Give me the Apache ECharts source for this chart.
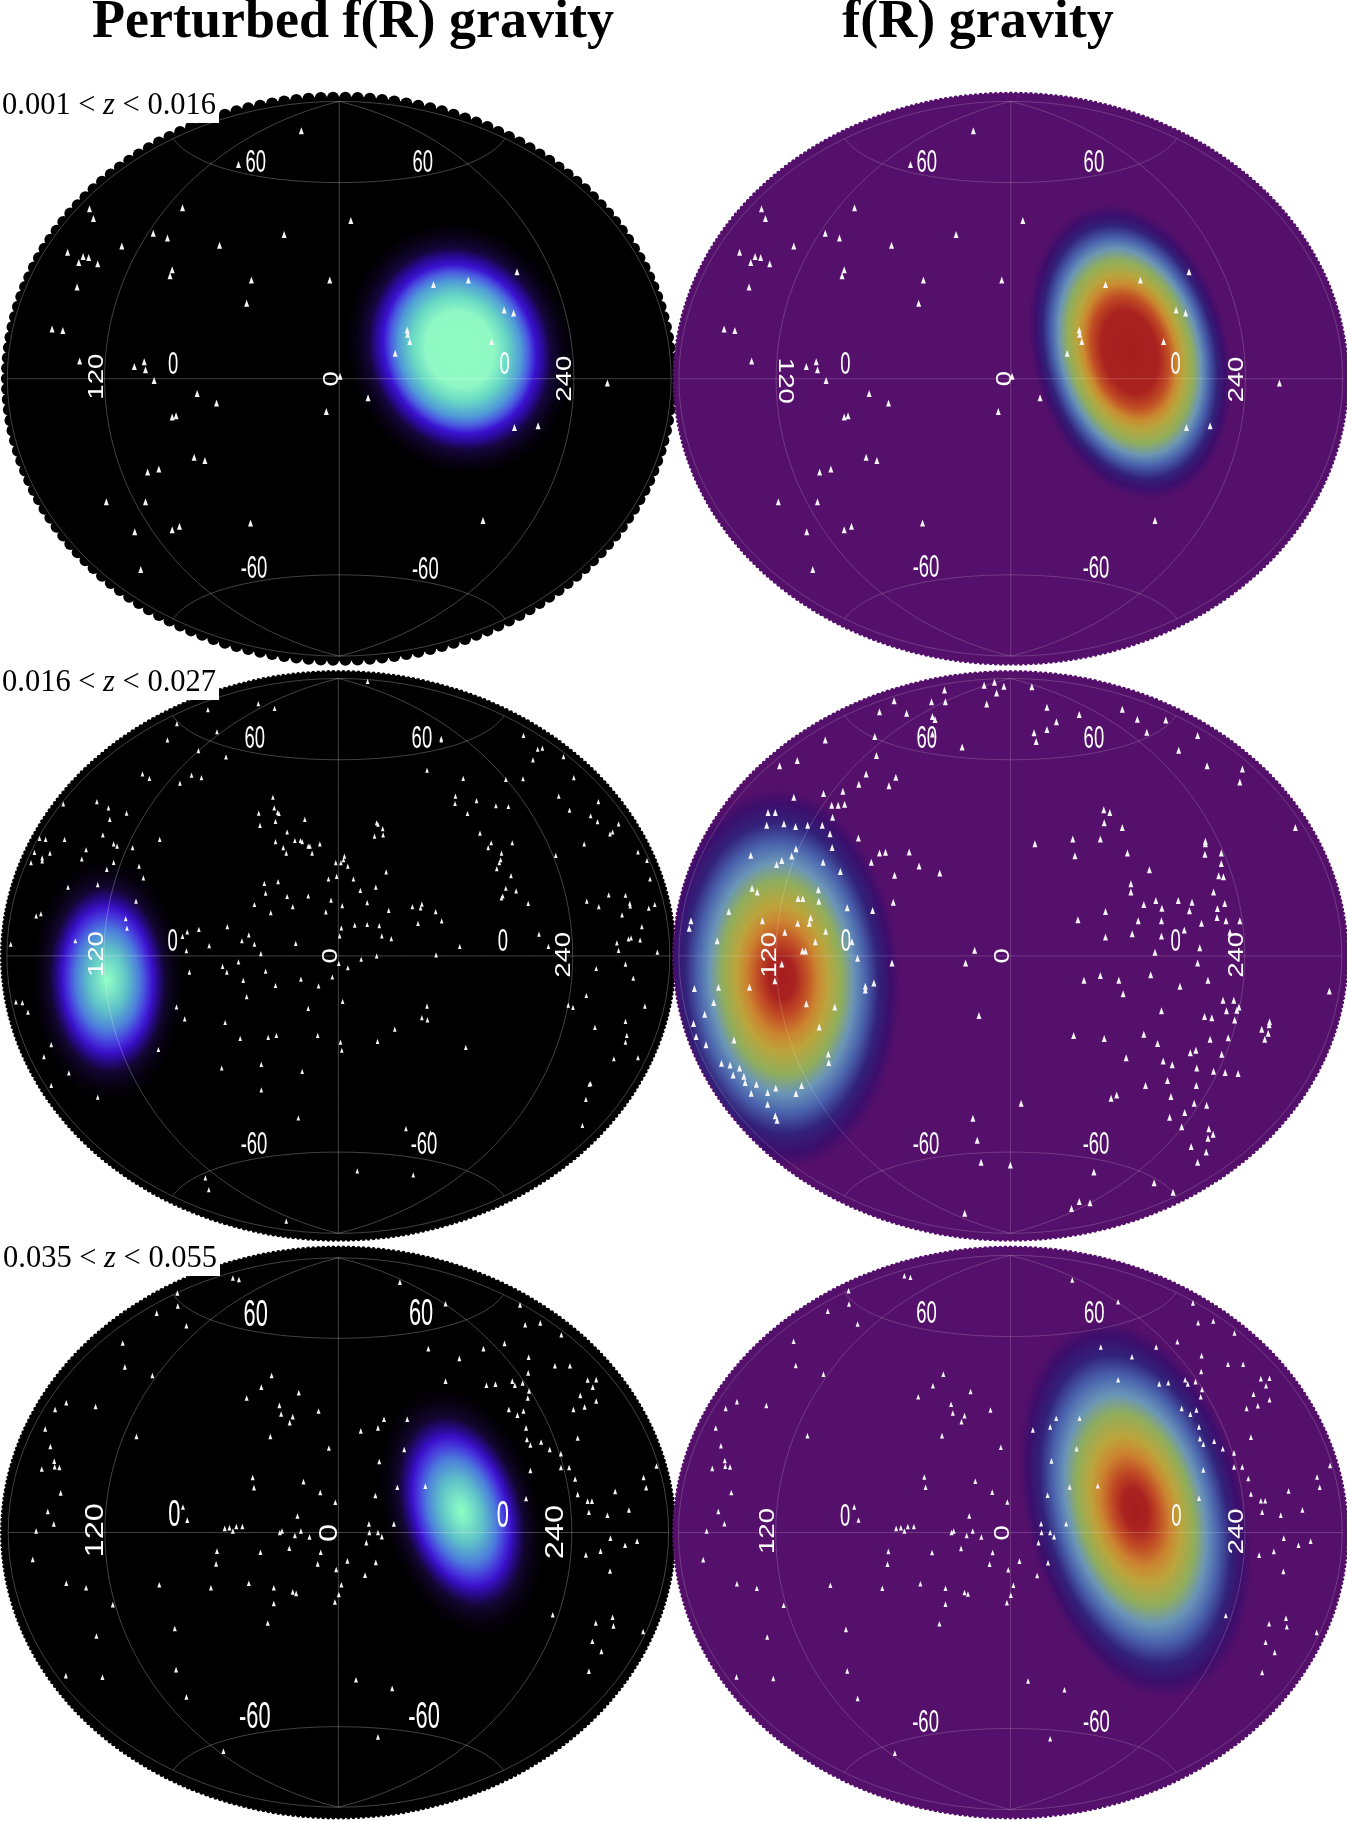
<!DOCTYPE html>
<html>
<head>
<meta charset="utf-8">
<style>html,body{margin:0;padding:0;background:#fff}#c{width:1347px;height:1821px}</style>
<script src="https://cdn.jsdelivr.net/npm/echarts@6/dist/echarts.min.js"></script>
</head>
<body>
<div id="c"></div>
<script>
// Source positions, in map plot units (0..1568 across each panel).
var sourcesRow1 = [[700,308],[554,388],[208,492],[424,490],[217,515],[815,520],[356,550],[389,561],[660,553],[510,578],[283,580],[157,595],[193,605],[206,607],[183,619],[227,622],[400,636],[395,650],[584,660],[766,660],[179,677],[573,715],[121,776],[146,779],[1007,671],[1088,660],[1201,641],[1171,731],[1193,738],[946,778],[947,788],[952,805],[1142,805],[918,833],[185,851],[312,864],[335,853],[338,872],[358,897],[458,928],[503,950],[855,938],[758,970],[1411,903],[400,983],[409,980],[1195,1008],[1250,1004],[451,1078],[476,1086],[343,1113],[369,1106],[247,1183],[338,1183],[1122,1227],[582,1233],[417,1241],[400,1249],[313,1254],[327,1343],[790,887]];
var sourcesRow2Left = [[854,58],[600,118],[638,131],[483,134],[411,172],[504,194],[389,216],[1025,212],[1025,216],[1216,204],[461,245],[525,262],[1249,241],[1260,238],[1238,270],[1309,261],[992,298],[331,308],[347,320],[445,311],[468,318],[418,333],[1076,320],[1175,323],[1215,321],[1333,318],[634,371],[225,383],[147,389],[1058,368],[1057,388],[1107,380],[1298,368],[1390,383],[637,400],[252,400],[645,412],[648,415],[601,414],[294,414],[1152,394],[1181,396],[1086,415],[1323,406],[1372,421],[604,447],[640,436],[708,431],[255,431],[1388,437],[875,440],[878,444],[889,456],[890,473],[870,476],[667,465],[239,473],[1115,468],[1437,443],[1423,465],[1417,470],[92,482],[106,485],[150,485],[371,485],[640,491],[685,488],[698,488],[702,491],[743,497],[1141,494],[1190,494],[1357,497],[264,497],[272,503],[716,503],[720,503],[308,507],[658,507],[1134,507],[200,513],[80,520],[116,522],[665,522],[725,522],[1165,522],[1482,519],[1291,528],[98,535],[98,543],[190,538],[72,548],[800,530],[798,540],[780,548],[792,548],[264,547],[1503,542],[1163,540],[1160,548],[808,557],[323,557],[1154,564],[248,566],[897,573],[782,585],[763,592],[821,592],[1187,583],[333,589],[1510,592],[646,599],[614,604],[158,614],[227,607],[873,614],[837,623],[1175,617],[1199,624],[617,630],[667,639],[716,638],[1414,635],[1453,636],[1168,638],[1165,643],[769,649],[316,652],[1363,652],[853,656],[1463,658],[1464,665],[1521,661],[1227,658],[591,661],[795,664],[958,667],[980,660],[977,670],[1391,667],[680,667],[1507,671],[903,677],[629,683],[757,681],[1012,680],[95,686],[84,692],[1445,689],[292,699],[1026,705],[971,712],[295,725],[528,721],[462,728],[824,717],[853,715],[881,718],[793,724],[1491,721],[435,735],[424,747],[578,743],[887,746],[789,746],[909,753],[1252,741],[1466,751],[1460,754],[1487,757],[562,759],[175,759],[591,768],[687,766],[1433,765],[25,768],[486,772],[1068,774],[1274,774],[433,786],[1437,785],[606,794],[1527,790],[1013,797],[875,800],[839,809],[554,816],[787,820],[1453,822],[517,828],[808,832],[527,844],[1385,834],[617,841],[440,844],[772,857],[1471,860],[565,866],[699,863],[640,880],[740,881],[1362,907],[573,910],[796,923],[37,924],[52,926],[1320,933],[1331,939],[1498,936],[410,938],[992,936],[65,952],[716,942],[429,970],[980,967],[993,973],[523,980],[1453,977],[1382,993],[917,998],[558,1023],[623,1020],[642,1015],[738,1015],[1456,1015],[1453,1033],[877,1031],[791,1033],[119,1040],[1082,1047],[368,1053],[794,1055],[102,1072],[1426,1078],[1482,1075],[515,1103],[607,1093],[702,1112],[160,1116],[119,1150],[1372,1145],[1369,1147],[607,1162],[227,1182],[1361,1188],[693,1238],[1353,1258],[943,1267],[1000,1278],[830,1381],[960,1392],[477,1400],[485,1432],[665,1517]];
var sourcesRow2Right = [[749,60],[725,68],[771,71],[836,72],[633,81],[754,89],[516,110],[603,113],[635,113],[731,119],[871,128],[482,140],[545,144],[605,153],[611,161],[946,147],[1046,133],[1081,160],[1147,162],[893,167],[871,188],[841,197],[1103,195],[471,207],[605,200],[846,220],[1221,204],[356,216],[674,235],[1177,244],[475,258],[291,272],[250,286],[1243,286],[1325,295],[1319,330],[451,308],[520,317],[434,336],[504,340],[397,355],[352,361],[283,371],[371,393],[386,393],[401,390],[223,412],[240,412],[1003,405],[1017,412],[373,425],[220,447],[260,443],[287,450],[315,447],[349,447],[1004,440],[1046,453],[1448,453],[367,470],[433,481],[931,484],[995,484],[1239,490],[1239,497],[843,497],[372,507],[288,510],[482,522],[496,520],[551,519],[278,530],[183,528],[936,529],[1058,522],[1238,525],[1276,522],[255,542],[243,553],[351,547],[463,547],[574,557],[1276,550],[391,572],[622,576],[1109,567],[517,582],[1270,583],[1281,586],[186,617],[198,627],[340,621],[1066,605],[1066,627],[1258,627],[293,645],[304,645],[341,652],[1124,650],[1176,650],[1208,655],[1096,661],[514,655],[1284,658],[1267,672],[407,670],[132,680],[466,677],[1138,671],[1007,680],[1202,678],[322,697],[1266,696],[943,702],[1083,705],[1137,705],[210,705],[44,705],[292,712],[319,712],[1287,705],[1319,705],[1230,712],[40,725],[262,736],[357,733],[1296,736],[1069,740],[1190,730],[1137,746],[1007,749],[105,759],[333,762],[418,762],[1226,778],[303,787],[310,787],[1122,790],[431,806],[511,819],[703,785],[682,819],[255,822],[1221,819],[1112,851],[995,853],[239,867],[957,866],[1038,866],[1245,866],[469,873],[180,885],[108,885],[52,888],[449,882],[449,892],[1180,882],[1048,902],[1527,895],[97,926],[312,929],[1280,920],[1305,920],[378,938],[1317,938],[1312,947],[1137,948],[1288,948],[713,961],[76,958],[1237,964],[1254,967],[1307,973],[50,983],[342,992],[1388,978],[1387,986],[1370,998],[933,1015],[1004,1023],[1096,1012],[1385,1009],[1377,1025],[56,1018],[1250,1025],[1292,1021],[144,1027],[79,1040],[1128,1037],[1217,1055],[1204,1062],[1277,1066],[363,1065],[364,1088],[1055,1075],[1141,1084],[1162,1094],[115,1090],[135,1095],[157,1103],[1219,1103],[1258,1112],[1285,1115],[1315,1118],[142,1122],[167,1125],[170,1142],[196,1147],[1151,1137],[301,1150],[241,1157],[1100,1150],[1218,1150],[184,1171],[222,1169],[288,1172],[1159,1180],[1033,1176],[1020,1185],[222,1201],[811,1198],[1213,1198],[1242,1204],[1191,1223],[240,1232],[244,1244],[1156,1236],[699,1239],[1184,1262],[1247,1267],[1257,1282],[1245,1293],[709,1298],[1206,1315],[1241,1330],[786,1365],[718,1358],[1221,1358],[980,1384],[1120,1413],[1164,1439],[946,1464],[971,1467],[928,1483],[680,1496]];
var sourcesRow3 = [[541,115],[555,119],[929,126],[412,155],[413,190],[1035,184],[1208,187],[364,209],[433,243],[1220,240],[1255,235],[1304,267],[285,289],[1172,290],[995,304],[1123,304],[1067,330],[1228,327],[290,353],[1289,350],[1324,350],[354,376],[631,376],[1227,369],[1365,388],[1385,387],[1035,391],[1190,391],[1130,402],[1151,399],[1196,402],[1214,396],[1377,407],[607,407],[694,422],[1229,417],[1348,429],[1226,436],[573,436],[1385,444],[154,449],[222,459],[128,467],[649,456],[1358,460],[1332,467],[1182,467],[1216,471],[740,471],[1202,482],[653,479],[680,486],[892,493],[946,493],[673,502],[105,519],[878,516],[1222,516],[838,524],[628,539],[317,539],[1342,543],[1224,547],[1232,562],[1257,554],[117,566],[764,570],[1277,574],[939,574],[1303,585],[881,606],[126,605],[127,620],[138,622],[97,626],[1303,622],[1322,622],[1232,630],[1525,618],[587,649],[1336,653],[1495,649],[705,660],[1501,676],[590,676],[923,675],[988,672],[141,690],[744,689],[872,697],[1429,686],[1342,694],[1222,705],[1365,712],[1375,712],[779,715],[425,728],[111,740],[691,752],[1461,736],[1368,742],[1411,750],[435,763],[125,773],[857,773],[915,773],[84,792],[522,785],[533,783],[549,780],[563,780],[541,792],[655,792],[650,796],[699,792],[858,796],[878,796],[685,804],[719,808],[887,807],[1418,811],[851,823],[1480,819],[1452,830],[672,838],[504,846],[605,849],[745,849],[1395,846],[1361,856],[76,868],[502,880],[738,880],[807,872],[873,876],[781,895],[1417,899],[848,910],[154,932],[370,936],[200,944],[490,944],[578,932],[636,944],[793,936],[680,955],[688,959],[787,962],[262,989],[778,982],[636,986],[1284,1016],[1423,1023],[622,1038],[1384,1038],[1425,1046],[406,1053],[1494,1061],[224,1073],[1376,1087],[1397,1114],[409,1163],[1368,1167],[153,1179],[238,1183],[827,1190],[911,1213],[433,1236],[878,1343],[519,1381]];

// Tick labels: text, x, y, orientation
var ticksA = [['60',594,385,'h'],['60',982,385,'h'],['0',402,863,'h'],['0',1172,863,'h'],['120',225,888,'ccw'],['240',1313,893,'ccw'],['0',770,893,'ccw'],['-60',590,1342,'h'],['-60',988,1345,'h']];
var ticksB = [['60',592,385,'h'],['60',980,385,'h'],['0',403,863,'h'],['0',1170,863,'h'],['120',262,898,'cw'],['240',1313,895,'ccw'],['0',767,893,'cw'],['-60',590,1340,'h'],['-60',985,1342,'h']];
var ticksC = [['60',592,215,'h'],['60',980,215,'h'],['0',401,763,'h'],['0',1168,763,'h'],['120',225,795,'ccw'],['240',1310,797,'ccw'],['0',768,800,'ccw'],['-60',590,1312,'h'],['-60',985,1313,'h']];
var ticksD = [['60',592,215,'h'],['60',980,215,'h'],['0',404,763,'h'],['0',1170,763,'h'],['120',228,797,'ccw'],['240',1312,797,'ccw'],['0',768,800,'ccw'],['-60',590,1313,'h'],['-60',985,1313,'h']];
var ticksE = [['60',594,217,'h'],['60',978,215,'h'],['0',405,753,'h'],['0',1168,755,'h'],['120',222,790,'ccw'],['240',1290,795,'ccw'],['0',765,797,'ccw'],['-60',592,1292,'h'],['-60',985,1293,'h']];
var ticksF = [['60',592,217,'h'],['60',980,217,'h'],['0',404,757,'h'],['0',1170,757,'h'],['120',225,792,'ccw'],['240',1310,793,'ccw'],['0',768,797,'ccw'],['-60',590,1303,'h'],['-60',985,1303,'h']];

var columnTitles = ['Perturbed f(R) gravity', 'f(R) gravity'];
var redshiftBins = ['0.001 < {i|z} < 0.016', '0.016 < {i|z} < 0.027', '0.035 < {i|z} < 0.055'];

// Anisotropy peak on each map: centre x, centre y
var peakA = [1068, 823], peakB = [1064, 830], peakC = [250, 865], peakD = [255, 860], peakE = [1072, 740], peakF = [1075, 735];

// Colour ramps
var BLACK = '#000000', PURPLE = '#54106a';
var rampPlateau = [[0,'#8ffcc4'],[.3,'#8ff8c4'],[.42,'#68d8c4'],[.54,'#4f9ad8'],[.61,'#4a58e0'],[.67,'#3a12d0'],[.73,'#2a0a98'],[.8,'#14063c'],[.9,'#070214'],[1,BLACK]];
var rampPeak = [[0,'#90fcc4'],[.1,'#7eeac6'],[.26,'#5ec0c8'],[.42,'#4c7ddc'],[.53,'#4636dc'],[.6,'#3a10c8'],[.67,'#260a84'],[.76,'#120630'],[.88,'#060210'],[1,BLACK]];
var rampRedWide = [[0,'#a51e1e'],[.28,'#aa2220'],[.38,'#c04c24'],[.46,'#cb8a30'],[.53,'#b6a73e'],[.62,'#90ae5c'],[.7,'#6c96b4'],[.77,'#4a64ae'],[.86,'#32227a'],[.93,'#3c0e6c'],[1,PURPLE]];
var rampRedNarrow = [[0,'#a51e1e'],[.11,'#aa2220'],[.2,'#c04a24'],[.3,'#cc8430'],[.39,'#bca53c'],[.51,'#90ae5c'],[.61,'#6a95b8'],[.71,'#4a63ad'],[.82,'#32227a'],[.92,'#3c0e6c'],[1,PURPLE]];

var GRID_ON_BLACK = 'rgba(255,255,255,.26)', GRID_ON_PURPLE = 'rgba(255,255,255,.18)';
var panels = [
  {grid:[0,0,675,665], xr:[0,1568], yr:[0,1568], c:[788,893], r:[771,654], disk:[786,677], fill:BLACK, scallop:[170,6], src:sourcesRow1, ticks:ticksA, peak:peakA, ramp:rampPlateau, semi:[128,112], tilt:20, tri:[5,7], lineC:GRID_ON_BLACK, tk:1},
  {grid:[672,0,675,665], xr:[0,1568], yr:[0,1568], c:[787,893], r:[771,654], disk:[786,677], fill:PURPLE, scallop:[420,2], src:sourcesRow1, ticks:ticksB, peak:peakB, ramp:rampRedWide, semi:[150,98], tilt:14, tri:[5,7], lineC:GRID_ON_PURPLE, tk:1},
  {grid:[0,660,675,580], xr:[0,1568], yr:[0,1568], c:[786,800], r:[770,750], disk:[786,773], fill:BLACK, scallop:[420,2], src:sourcesRow2Left, ticks:ticksC, peak:peakC, ramp:rampPeak, semi:[122,76], tilt:2, tri:[3.6,5.2], lineC:GRID_ON_BLACK, tk:1},
  {grid:[672,660,675,580], xr:[0,1568], yr:[0,1568], c:[786,800], r:[770,750], disk:[786,773], fill:PURPLE, scallop:[420,2], src:sourcesRow2Right, ticks:ticksD, peak:peakD, ramp:rampRedNarrow, semi:[190,118], tilt:3, tri:[5,7], lineC:GRID_ON_PURPLE, tk:1},
  {grid:[0,1235,675,586], xr:[0,1568], yr:[0,1568], c:[786,796], r:[767,735], disk:[786,768], fill:BLACK, scallop:[420,2], src:sourcesRow3, ticks:ticksE, peak:peakE, ramp:rampPeak, semi:[128,78], tilt:16, tri:[4,5.6], lineC:GRID_ON_BLACK, tk:1.18},
  {grid:[672,1235,675,586], xr:[3.9,1564.1], yr:[7.1,1561.1], c:[786,796], r:[767,735], disk:[782,761], fill:PURPLE, scallop:[420,2], src:sourcesRow3, ticks:ticksF, peak:peakF, ramp:rampRedNarrow, semi:[192,110], tilt:14, tri:[4,5.6], lineC:GRID_ON_PURPLE, tk:1}
];

// Hammer projection of (lon, lat in degrees) to unit-ellipse coordinates
function hammer(lon, lat) {
  var l = lon * Math.PI / 180, p = lat * Math.PI / 180;
  var d = Math.sqrt(1 + Math.cos(p) * Math.cos(l / 2));
  return [Math.cos(p) * Math.sin(l / 2) / d, Math.sin(p) / d];
}
function graticule(P) {
  var out = [], i;
  function pt(h) { out.push([P.c[0] + h[0] * P.r[0], P.c[1] - h[1] * P.r[1]]); }
  function gap() { out.push(['-', '-']); }
  [-180, -120, 0, 120, 180].forEach(function (lon) {
    for (i = -90; i <= 90; i += 3) pt(hammer(lon, i));
    gap();
  });
  [-60, 0, 60].forEach(function (lat) {
    for (i = -180; i <= 180; i += 5) pt(hammer(i, lat));
    gap();
  });
  return out;
}

var option = {
  animation: false,
  backgroundColor: '#ffffff',
  grid: [], xAxis: [], yAxis: [], series: [],
  title: redshiftBins.map(function (t, i) {
    return {
      text: t, left: [0, 0, 1][i] + 2, top: [89, 666, 1242][i], padding: [1, 3, 2, 0],
      backgroundColor: '#ffffff', z: 20,
      textStyle: { fontFamily: '"Liberation Serif"', fontSize: 30.5, fontWeight: 'normal', color: '#000', rich: { i: { fontFamily: '"Liberation Serif"', fontSize: 30.5, fontStyle: 'italic', color: '#000' } } }
    };
  }),
  graphic: [
    { type: 'text', x: 353, y: 50, z: 30, style: { text: columnTitles[0], fill: '#000', font: 'bold 54px "Liberation Serif"', align: 'center', verticalAlign: 'bottom' } },
    { type: 'text', x: 978, y: 50, z: 30, style: { text: columnTitles[1], fill: '#000', font: 'bold 54px "Liberation Serif"', align: 'center', verticalAlign: 'bottom' } }
  ]
};

panels.forEach(function (P, k) {
  option.grid.push({ left: P.grid[0], top: P.grid[1], width: P.grid[2], height: P.grid[3], containLabel: false, show: false });
  option.xAxis.push({ type: 'value', gridIndex: k, min: P.xr[0], max: P.xr[1], show: false });
  option.yAxis.push({ type: 'value', gridIndex: k, min: P.yr[0], max: P.yr[1], inverse: true, show: false });
  var ax = { xAxisIndex: k, yAxisIndex: k, silent: true, clip: false };

  // sky disk
  option.series.push(Object.assign({}, ax, {
    type: 'custom', z: 1, coordinateSystem: 'cartesian2d', data: [P.c],
    renderItem: function (params, api) {
      var c = api.coord([api.value(0), api.value(1)]), s = api.size([1, 1]);
      var rx = P.disk[0] * s[0], ry = P.disk[1] * s[1], n = P.scallop[0], b = P.scallop[1];
      var kids = [{ type: 'ellipse', shape: { cx: c[0], cy: c[1], rx: rx - b * .8, ry: ry - b * .8 }, style: { fill: P.fill } }];
      for (var i = 0; i < n; i++) {
        var a = i / n * 2 * Math.PI;
        kids.push({ type: 'circle', shape: { cx: c[0] + (rx - b) * Math.cos(a), cy: c[1] + (ry - b) * Math.sin(a), r: b }, style: { fill: P.fill } });
      }
      return { type: 'group', children: kids };
    }
  }));

  // anisotropy peak
  option.series.push(Object.assign({}, ax, {
    type: 'custom', z: 2, coordinateSystem: 'cartesian2d', data: [P.peak],
    renderItem: function (params, api) {
      var c = api.coord([api.value(0), api.value(1)]), s = api.size([1, 1]), o = api.coord(P.c);
      return {
        type: 'group',
        clipPath: { type: 'ellipse', shape: { cx: o[0], cy: o[1], rx: P.disk[0] * s[0] - 2, ry: P.disk[1] * s[1] - 2 } },
        children: [{
          type: 'circle', x: c[0], y: c[1], rotation: P.tilt * Math.PI / 180,
          scaleX: P.semi[1] / 100, scaleY: P.semi[0] / 100,
          shape: { cx: 0, cy: 0, r: 100 },
          style: { fill: { type: 'radial', x: .5, y: .5, r: .5, colorStops: P.ramp.map(function (q) { return { offset: q[0], color: q[1] }; }) } }
        }]
      };
    }
  }));

  // graticule
  option.series.push(Object.assign({}, ax, {
    type: 'line', z: 3, data: graticule(P), showSymbol: false, connectNulls: false,
    lineStyle: { color: P.lineC, width: 1 }
  }));

  // sources
  option.series.push(Object.assign({}, ax, {
    type: 'scatter', z: 4, data: P.src, symbol: 'triangle', symbolSize: P.tri,
    itemStyle: { color: '#f4f4f4', opacity: 1 }
  }));

  // tick labels
  option.series.push(Object.assign({}, ax, {
    type: 'custom', z: 5, coordinateSystem: 'cartesian2d',
    encode: { x: 1, y: 2 },
    data: P.ticks,
    renderItem: function (params, api) {
      var t = P.ticks[params.dataIndex], c = api.coord([t[1], t[2]]);
      var horiz = t[3] === 'h', rot = horiz ? 0 : (t[3] === 'ccw' ? Math.PI / 2 : -Math.PI / 2);
      return {
        type: 'text', x: c[0], y: c[1], rotation: rot,
        scaleX: (horiz ? .77 : 1.15) * P.tk, scaleY: (horiz ? 1.28 : .93) * P.tk,
        style: { text: t[0], fill: '#ffffff', font: '24px "Liberation Sans"', align: 'center', verticalAlign: 'middle' }
      };
    }
  }));
});

var chart = echarts.init(document.getElementById('c'), null, { renderer: 'canvas', width: 1347, height: 1821 });
chart.setOption(option);
</script>
</body>
</html>
